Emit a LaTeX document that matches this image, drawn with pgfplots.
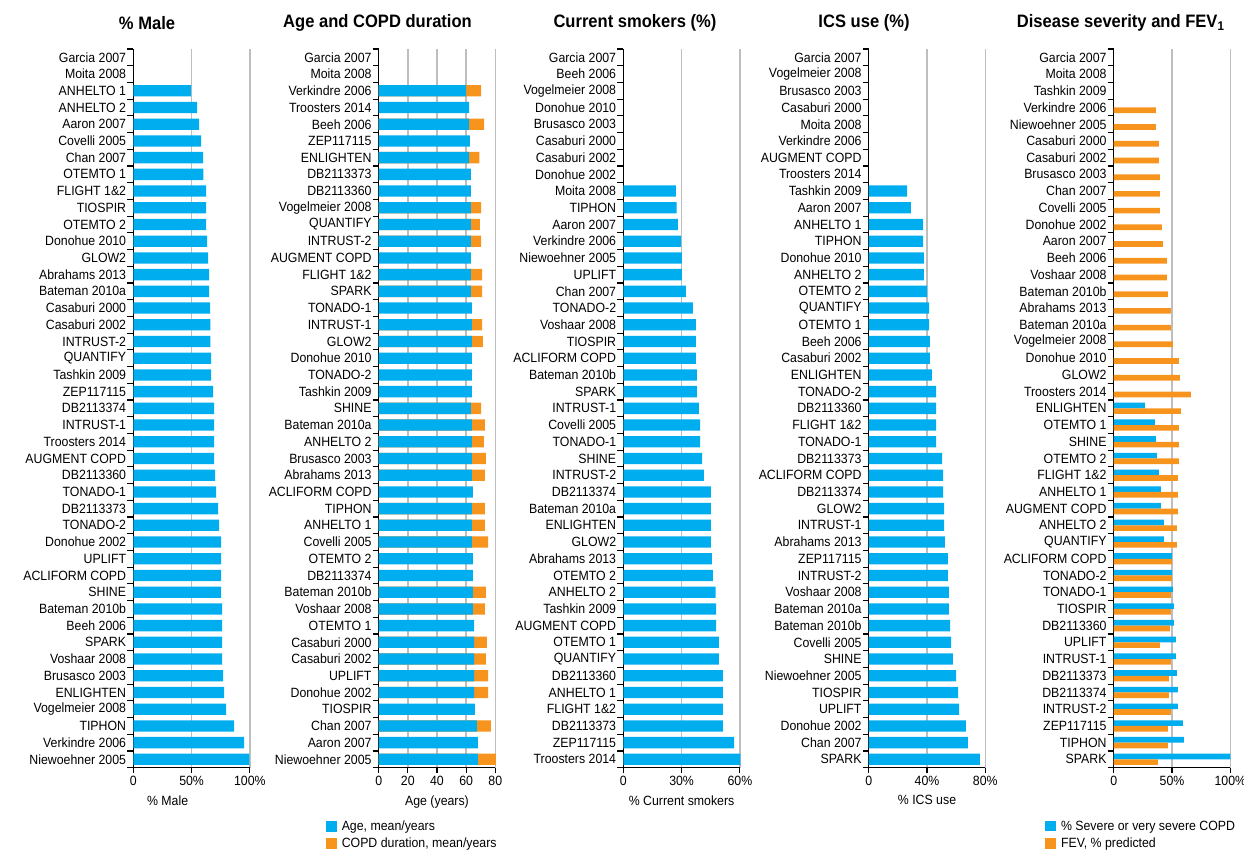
\documentclass[border=0pt]{standalone}
\usepackage{fontspec}
\setmainfont{Liberation Sans}[FakeStretch=0.92]
\usepackage{pgfplots}
\pgfplotsset{compat=1.18}
\usepackage{pgfplotstable}
\definecolor{cblue}{HTML}{00AEEF}
\definecolor{corange}{HTML}{F7941D}
\definecolor{cgrid}{HTML}{BEBEBE}
\newcommand{\lfont}{\fontsize{13.4}{15}\selectfont}
\newcommand{\tfont}{\fontsize{18}{20}\selectfont\bfseries}

% Panel 1: % male (y = 0 bottom ... 42 top)
\pgfplotstableread{
y v
0 99.5
1 95
2 86.5
3 79.7
4 78
5 77
6 76.2
7 76.2
8 76.2
9 76.2
10 75.4
11 75.4
12 75.4
13 75.4
14 73.6
15 72.8
16 71
17 70.2
18 69.3
19 69.3
20 69.3
21 69.3
22 68.5
23 66.8
24 66.8
25 66
26 66
27 65.9
28 65
29 65
30 64.2
31 63.3
32 62.5
33 62.5
34 62.5
35 60
36 59.9
37 58.2
38 56.4
39 54.7
40 49.6
}\tblA

% Panel 2: age and COPD duration
\pgfplotstableread{
y age dur
0 68.1 12.3
1 68.1 0
2 67.4 9.6
3 66 0
4 65.4 9.6
5 65.4 9.6
6 65.4 8.2
7 65.4 8.9
8 65.4 0
9 64.7 8.2
10 64.7 8.9
11 64.7 0
12 64.7 0
13 64 11
14 64 8.9
15 64 8.9
16 64.7 0
17 64 8.9
18 64 9.6
19 64 8.2
20 64 8.9
21 63.3 6.9
22 64 0
23 64 0
24 64 0
25 64 7.5
26 64 6.9
27 64 0
28 63.3 7.6
29 63.3 7.6
30 63.3 0
31 63.3 7
32 63.3 6.2
33 63.3 7
34 63.3 0
35 63.3 0
36 62 7
37 62.6 0
38 62 10.3
39 62 0
40 60 10.3
}\tblB

% Panel 3: current smokers
\pgfplotstableread{
y v
0 60.2
1 57
2 51.3
3 51.3
4 51.3
5 51.3
6 49.2
7 49.2
8 47.7
9 47.7
10 47.5
11 46.1
12 45.6
13 45.1
14 45.1
15 45.1
16 45.1
17 41.5
18 40.5
19 39.5
20 39.5
21 38.9
22 37.9
23 37.9
24 37.4
25 37.4
26 37.4
27 35.8
28 32.2
29 30.2
30 30.2
31 29.7
32 28.1
33 27.4
34 27.1
}\tblC

% Panel 4: ICS use
\pgfplotstableread{
y v
0 76.3
1 68.1
2 66.7
3 62
4 61.3
5 59.9
6 57.8
7 56.5
8 55.8
9 55
10 55
11 54.4
12 54.4
13 52.3
14 51.7
15 51.7
16 51
17 51
18 50.3
19 46.2
20 46.2
21 46.2
22 46.2
23 43.4
24 42
25 42
26 41.4
27 41.4
28 40
29 37.9
30 37.9
31 37.3
32 37.3
33 29
34 26.3
}\tblD

% Panel 5: severe COPD (%)
\pgfplotstableread{
y v
0 100
1 60.1
2 59.3
3 55
4 55
5 54.1
6 53.3
7 53.3
8 51.6
9 51.6
10 50.7
11 49.9
12 49.9
13 43
14 43
15 40.5
16 40.5
17 38.7
18 37
19 36.2
20 35.3
21 26.8
}\tblEa

% Panel 5: FEV1 % predicted
\pgfplotstableread{
y v
0 37.9
1 46.4
2 46.4
3 49
4 47.3
5 47.3
6 49
7 39.6
8 48.1
9 49
10 49
11 49.9
12 49.9
13 54.1
14 54.1
15 55
16 55
17 55
18 55.8
19 55.8
20 55.8
21 57.5
22 66.1
23 56.7
24 55.8
25 50.7
26 49
27 49
28 46.4
29 45.6
30 45.6
31 42.2
32 41.3
33 39.6
34 39.6
35 39.6
36 38.7
37 38.7
38 36.2
39 36.2
}\tblEb

\pgfplotsset{
  panel/.style={
    scale only axis, width=116.6pt, height=718.7pt,
    anchor=south west,
    ymin=-0.5, ymax=42.5, ytick={0,...,42},
    minor ytick={-0.5,0.5,...,42.5},
    axis x line*=bottom, axis y line*=left,
    xtick pos=left, ytick pos=left,
    axis line style={-, black, line width=1.1pt},
    tick align=outside,
    major tick length=5pt, minor tick length=6pt,
    major y tick style={draw=none},
    minor y tick style={black, line width=1.1pt},
    major x tick style={black, line width=1.1pt},
    xmajorgrids, major x grid style={cgrid, line width=1.5pt},
    ticklabel style={font=\lfont},
    yticklabel style={inner xsep=2pt},
    xlabel style={font=\lfont, yshift=-3pt},
    title style={font=\tfont, anchor=center},
    legend style={draw=none, fill=none, font=\lfont, anchor=north west,
      legend cell align=left, row sep=2pt,
      /tikz/every odd column/.append style={column sep=3pt}},
    clip=false,
  },
  bluebar/.style={xbar, bar width=0.676, fill=cblue, draw=none},
  orangebar/.style={xbar, bar width=0.676, fill=corange, draw=none},
  swatchB/.style={legend image code/.code={\fill[cblue] (0pt,-5.3pt) rectangle (10.6pt,5.3pt);}},
  swatchO/.style={legend image code/.code={\fill[corange] (0pt,-5.3pt) rectangle (10.6pt,5.3pt);}},
}

\begin{document}
\begin{tikzpicture}
\useasboundingbox (0,0) rectangle (1244pt,852pt);

% ---------- Panel 1
\begin{axis}[panel, at={(133.3pt,84.3pt)},
  xmin=0, xmax=100, xtick={0,50,100}, xticklabels={0,50\%,100\%},
  xlabel={\% Male}, xlabel style={xshift=-24pt},
  title={\% Male}, title style={at={(0.118,1)}, yshift=20pt},
  yticklabels={Niewoehner 2005, Verkindre 2006, TIPHON, Vogelmeier 2008, ENLIGHTEN, Brusasco 2003, Voshaar 2008, SPARK, Beeh 2006, Bateman 2010b, SHINE, ACLIFORM COPD, UPLIFT, Donohue 2002, TONADO-2, DB2113373, TONADO-1, DB2113360, AUGMENT COPD, Troosters 2014, INTRUST-1, DB2113374, ZEP117115, Tashkin 2009, QUANTIFY, INTRUST-2, Casaburi 2002, Casaburi 2000, Bateman 2010a, Abrahams 2013, GLOW2, Donohue 2010, OTEMTO 2, TIOSPIR, FLIGHT 1\&2, OTEMTO 1, Chan 2007, Covelli 2005, Aaron 2007, ANHELTO 2, ANHELTO 1, Moita 2008, Garcia 2007},
]
\addplot[bluebar] table[x=v, y=y] {\tblA};
\end{axis}

% ---------- Panel 2
\begin{axis}[panel, at={(378.7pt,84.3pt)},
  xmin=0, xmax=80, xtick={0,20,40,60,80}, xticklabels={0,20,40,60,80},
  xlabel={Age (years)},
  title={Age and COPD duration}, title style={at={(-0.01,1)}, yshift=20pt},
  yticklabels={Niewoehner 2005, Aaron 2007, Chan 2007, TIOSPIR, Donohue 2002, UPLIFT, Casaburi 2002, Casaburi 2000, OTEMTO 1, Voshaar 2008, Bateman 2010b, DB2113374, OTEMTO 2, Covelli 2005, ANHELTO 1, TIPHON, ACLIFORM COPD, Abrahams 2013, Brusasco 2003, ANHELTO 2, Bateman 2010a, SHINE, Tashkin 2009, TONADO-2, Donohue 2010, GLOW2, INTRUST-1, TONADO-1, SPARK, FLIGHT 1\&2, AUGMENT COPD, INTRUST-2, QUANTIFY, Vogelmeier 2008, DB2113360, DB2113373, ENLIGHTEN, ZEP117115, Beeh 2006, Troosters 2014, Verkindre 2006, Moita 2008, Garcia 2007},
  legend style={at={(-0.478,-0.068)}}, reverse legend,
]
\addplot[orangebar, swatchO, restrict expr to domain={\thisrow{dur}}{0.05:100}]
  table[y=y, x expr=\thisrow{age}+\thisrow{dur}] {\tblB};
\addlegendentry{COPD duration, mean/years}
\addplot[bluebar, swatchB] table[x=age, y=y] {\tblB};
\addlegendentry{Age, mean/years}
\end{axis}

% ---------- Panel 3
\begin{axis}[panel, at={(623.3pt,84.3pt)},
  xmin=0, xmax=60, xtick={0,30,60}, xticklabels={0,30\%,60\%},
  xlabel={\% Current smokers},
  title={Current smokers (\%)}, title style={at={(0.10,1)}, yshift=20pt},
  yticklabels={Troosters 2014, ZEP117115, DB2113373, FLIGHT 1\&2, ANHELTO 1, DB2113360, QUANTIFY, OTEMTO 1, AUGMENT COPD, Tashkin 2009, ANHELTO 2, OTEMTO 2, Abrahams 2013, GLOW2, ENLIGHTEN, Bateman 2010a, DB2113374, INTRUST-2, SHINE, TONADO-1, Covelli 2005, INTRUST-1, SPARK, Bateman 2010b, ACLIFORM COPD, TIOSPIR, Voshaar 2008, TONADO-2, Chan 2007, UPLIFT, Niewoehner 2005, Verkindre 2006, Aaron 2007, TIPHON, Moita 2008, Donohue 2002, Casaburi 2002, Casaburi 2000, Brusasco 2003, Donohue 2010, Vogelmeier 2008, Beeh 2006, Garcia 2007},
]
\addplot[bluebar] table[x=v, y=y] {\tblC};
\end{axis}

% ---------- Panel 4
\begin{axis}[panel, at={(868.7pt,84.3pt)},
  xmin=0, xmax=80, xtick={0,40,80}, xticklabels={0,40\%,80\%},
  xlabel={\% ICS use},
  title={ICS use (\%)}, title style={at={(-0.04,1)}, yshift=20pt},
  yticklabels={SPARK, Chan 2007, Donohue 2002, UPLIFT, TIOSPIR, Niewoehner 2005, SHINE, Covelli 2005, Bateman 2010b, Bateman 2010a, Voshaar 2008, INTRUST-2, ZEP117115, Abrahams 2013, INTRUST-1, GLOW2, DB2113374, ACLIFORM COPD, DB2113373, TONADO-1, FLIGHT 1\&2, DB2113360, TONADO-2, ENLIGHTEN, Casaburi 2002, Beeh 2006, OTEMTO 1, QUANTIFY, OTEMTO 2, ANHELTO 2, Donohue 2010, TIPHON, ANHELTO 1, Aaron 2007, Tashkin 2009, Troosters 2014, AUGMENT COPD, Verkindre 2006, Moita 2008, Casaburi 2000, Brusasco 2003, Vogelmeier 2008, Garcia 2007},
]
\addplot[bluebar] table[x=v, y=y] {\tblD};
\end{axis}

% ---------- Panel 5
\begin{axis}[panel, at={(1113.7pt,84.3pt)},
  xmin=0, xmax=100, xtick={0,50,100}, xticklabels={0,50\%,100\%},
  title={Disease severity and FEV\textsubscript{1}}, title style={at={(0.06,1)}, yshift=20pt},
  yticklabels={SPARK, TIPHON, ZEP117115, INTRUST-2, DB2113374, DB2113373, INTRUST-1, UPLIFT, DB2113360, TIOSPIR, TONADO-1, TONADO-2, ACLIFORM COPD, QUANTIFY, ANHELTO 2, AUGMENT COPD, ANHELTO 1, FLIGHT 1\&2, OTEMTO 2, SHINE, OTEMTO 1, ENLIGHTEN, Troosters 2014, GLOW2, Donohue 2010, Vogelmeier 2008, Bateman 2010a, Abrahams 2013, Bateman 2010b, Voshaar 2008, Beeh 2006, Aaron 2007, Donohue 2002, Covelli 2005, Chan 2007, Brusasco 2003, Casaburi 2002, Casaburi 2000, Niewoehner 2005, Verkindre 2006, Tashkin 2009, Moita 2008, Garcia 2007},
  legend style={at={(-0.613,-0.068)}},
]
\addplot[xbar, bar width=0.338, bar shift=0.169, fill=cblue, draw=none, swatchB] table[x=v, y=y] {\tblEa};
\addlegendentry{\% Severe or very severe COPD}
\addplot[xbar, bar width=0.338, bar shift=-0.169, fill=corange, draw=none, swatchO] table[x=v, y=y] {\tblEb};
\addlegendentry{FEV, \% predicted}
\end{axis}
\end{tikzpicture}
\end{document}
